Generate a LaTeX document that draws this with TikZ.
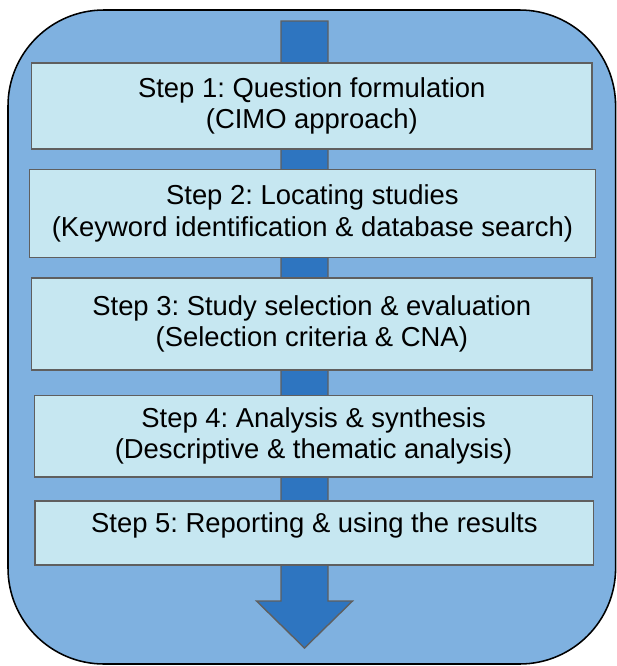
\documentclass[tikz,border=0pt]{standalone}
\usepackage{fontspec}
\setmainfont{Liberation Sans}
\usepackage{tikz}
\usepackage{xcolor}
\usetikzlibrary{arrows.meta,positioning}

\definecolor{outerblue}{RGB}{127,177,224}
\definecolor{arrowblue}{RGB}{46,117,192}
\definecolor{boxcyan}{RGB}{198,231,241}
\definecolor{edgegray}{RGB}{95,95,95}

\tikzset{
  stepbox/.style={rectangle,draw=edgegray,fill=boxcyan,line width=1pt,
    align=center,inner sep=0pt,font=\fontsize{19.5}{22.5}\selectfont\frenchspacing}
}

\begin{document}
\begin{tikzpicture}
    \useasboundingbox (0,0) rectangle (15.425,-16.65);

    % Background panel
    \draw[fill=outerblue,line width=1.1pt,rounded corners=2.4cm] (0.2,-0.25) rectangle (15.39,-16.6);

    % Flow arrow
    \coordinate (top) at (7.6125,-0.525);
    \coordinate (tip) at (7.6125,-16.2);
    \draw[fill=arrowblue,draw=edgegray,line width=1pt]
        ([xshift=-0.5875cm]top) -- ([xshift=0.5875cm]top)
        -- ([xshift=0.5875cm,yshift=1.175cm]tip) -- ([xshift=1.2cm,yshift=1.175cm]tip)
        -- (tip)
        -- ([xshift=-1.2cm,yshift=1.175cm]tip) -- ([xshift=-0.5875cm,yshift=1.175cm]tip)
        -- cycle;

    % Steps
    \node[stepbox,minimum width=14.01cm,minimum height=2.15cm] (s1) at (7.795,-2.65)
        {Step 1: Question formulation\\(CIMO approach)};
    \node[stepbox,minimum width=14.14cm,minimum height=2.2cm] (s2) at (7.81,-5.33)
        {Step 2: Locating studies\\(Keyword identification \& database search)};
    \node[stepbox,minimum width=14.01cm,minimum height=2.3cm] (s3) at (7.795,-8.1)
        {Step 3: Study selection \& evaluation\\(Selection criteria \& CNA)};
    \node[stepbox,minimum width=13.95cm,minimum height=2.04cm] (s4) at (7.84,-10.9)
        {Step 4: Analysis \& synthesis\\(Descriptive \& thematic analysis)};
    \node[stepbox,minimum width=13.96cm,minimum height=1.6cm,text depth=0.5cm] (s5) at (7.86,-13.32)
        {Step 5: Reporting \& using the results};
\end{tikzpicture}
\end{document}
